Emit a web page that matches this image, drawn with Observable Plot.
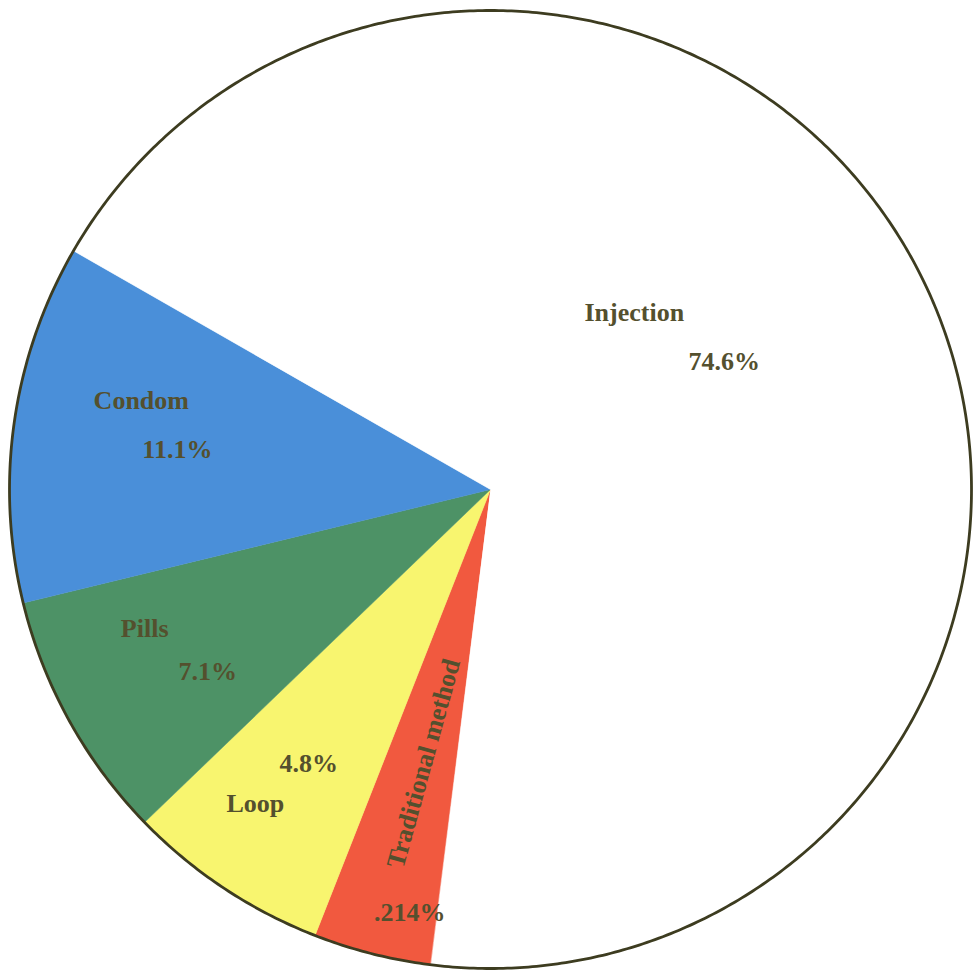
<!DOCTYPE html>
<html>
<head>
<meta charset="utf-8">
<script src="https://cdn.jsdelivr.net/npm/d3@7"></script>
<script src="https://cdn.jsdelivr.net/npm/@observablehq/plot@0.6"></script>
<style>
  html, body { margin: 0; padding: 0; background: #ffffff; }
  #chart svg { display: block; }
</style>
</head>
<body>
<div id="chart"></div>
<script>
// Categories in drawing order (clockwise, starting at the lower boundary of Injection)
const categories = ["Traditional method", "Loop", "Pills", "Condom", "Injection"];
// Slice shares (percent)
const shares = [3.97, 6.83, 8.42, 12.11, 68.67];
// Printed labels
const valueLabels = [".214%", "4.8%", "7.1%", "11.1%", "74.6%"];
const colors = ["#f1593f", "#f8f56f", "#4d9266", "#4a8fd9", "#ffffff"];

// Layout: label anchors in the unit-circle coordinate space
const nameAnchors = [[-0.139, -0.572], [-0.489, -0.656], [-0.719, -0.290], [-0.726, 0.186], [0.299, 0.370]];
const valueAnchors = [[-0.168, -0.883], [-0.378, -0.572], [-0.588, -0.380], [-0.651, 0.084], [0.486, 0.267]];
const nameRotate = [-74.6, 0, 0, 0, 0];
const startDeg = 187.1;

const pie = d3.pie().sort(null).value(d => d.share)
  .startAngle(startDeg * Math.PI / 180)
  .endAngle((startDeg + 360) * Math.PI / 180);
const data = categories.map((c, i) => ({category: c, share: shares[i], color: colors[i]}));
const arcs = pie(data);

function slicePoints(a) {
  const pts = [{x: 0, y: 0}];
  const n = Math.max(4, Math.ceil((a.endAngle - a.startAngle) / 0.005));
  for (let k = 0; k <= n; k++) {
    const t = a.startAngle + (a.endAngle - a.startAngle) * k / n;
    pts.push({x: Math.sin(t), y: Math.cos(t)});
  }
  return pts;
}
const rim = d3.range(0, 721).map(k => {
  const t = k / 720 * 2 * Math.PI;
  return {x: Math.sin(t), y: Math.cos(t)};
});

const nameData = categories.map((c, i) => ({text: c, x: nameAnchors[i][0], y: nameAnchors[i][1], rotate: nameRotate[i]}));
const valueData = valueLabels.map((v, i) => ({text: v, x: valueAnchors[i][0], y: valueAnchors[i][1]}));

const textStyle = {
  fontFamily: "'Liberation Serif', 'DejaVu Serif', serif",
  fontWeight: "bold",
  fontSize: 26,
  fill: "#54502e"
};

const plot = Plot.plot({
  width: 974,
  height: 978,
  marginLeft: 9,
  marginRight: 3,
  marginTop: 10,
  marginBottom: 10,
  x: {domain: [-1, 1], axis: null},
  y: {domain: [-1, 1], axis: null},
  style: {background: "#ffffff", overflow: "visible"},
  marks: [
    ...arcs.map(a => Plot.line(slicePoints(a), {
      x: "x", y: "y", curve: "linear-closed",
      fill: a.data.color, stroke: a.data.color, strokeWidth: 0.5
    })),
    Plot.line(rim, {x: "x", y: "y", stroke: "#3d3c20", strokeWidth: 2.8}),
    Plot.text(nameData, {x: "x", y: "y", text: "text", rotate: "rotate", ...textStyle}),
    Plot.text(valueData, {x: "x", y: "y", text: "text", ...textStyle})
  ]
});
document.getElementById("chart").appendChild(plot);
</script>
</body>
</html>
